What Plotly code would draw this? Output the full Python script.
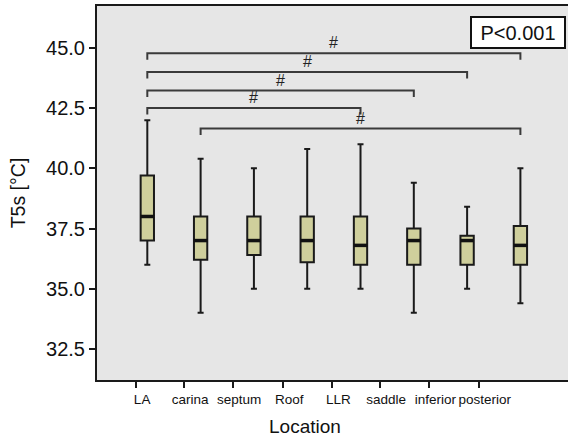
import plotly.graph_objects as go

categories = ["LA", "carina", "septum", "Roof", "LLR", "saddle", "inferior", "posterior"]
upper = [42.0, 40.4, 40.0, 40.8, 41.0, 39.4, 38.4, 40.0]
q3 = [39.7, 38.0, 38.0, 38.0, 38.0, 37.5, 37.2, 37.6]
median = [38.0, 37.0, 37.0, 37.0, 36.8, 37.0, 37.0, 36.8]
q1 = [37.0, 36.2, 36.4, 36.1, 36.0, 36.0, 36.0, 36.0]
lower = [36.0, 34.0, 35.0, 35.0, 35.0, 34.0, 35.0, 34.4]

# significance brackets: (from index, to index, level)
brackets = [(0, 7, 44.78), (0, 6, 44.0), (0, 5, 43.23), (0, 4, 42.5), (1, 7, 41.65)]
bracket_label = "#"
p_text = "P<0.001"

y_ticks = [32.5, 35.0, 37.5, 40.0, 42.5, 45.0]
x_tick_positions = [-0.21, 0.69, 1.61, 2.55, 3.47, 4.37, 5.29, 6.22]

positions = list(range(len(categories)))
box_w = 0.25

fig = go.Figure()
fig.add_trace(go.Box(
    x=positions, q1=q1, median=median, q3=q3,
    lowerfence=lower, upperfence=upper,
    width=box_w, whiskerwidth=0.45, boxpoints=False,
    fillcolor="#cfcf9c", line=dict(color="#1a1a1a", width=2),
    hoverinfo="skip", showlegend=False,
))

mx, my = [], []
for p, m in zip(positions, median):
    mx += [p - box_w / 2, p + box_w / 2, None]
    my += [m, m, None]
fig.add_trace(go.Scatter(x=mx, y=my, mode="lines",
                         line=dict(color="#111111", width=3.5),
                         hoverinfo="skip", showlegend=False))

drop = 0.27
for a, b, lvl in brackets:
    xa, xb = positions[a], positions[b]
    fig.add_shape(type="path",
                  path=f"M {xa},{lvl - drop} L {xa},{lvl} L {xb},{lvl} L {xb},{lvl - drop}",
                  line=dict(color="#3a3a3a", width=2), xref="x", yref="y")
    fig.add_annotation(x=(xa + xb) / 2, y=lvl, text=bracket_label, showarrow=False,
                       yanchor="bottom", yshift=0,
                       font=dict(size=16, color="#222222", family="Liberation Sans, Arial"))

fig.add_annotation(xref="paper", yref="paper", x=0.9958, y=0.973,
                   xanchor="right", yanchor="top", text=p_text, showarrow=False,
                   width=90, height=27, borderpad=1,
                   bordercolor="#111111", borderwidth=2, bgcolor="#ffffff",
                   font=dict(size=20, color="#111111", family="Liberation Sans, Arial"))

fig.add_annotation(xref="paper", yref="paper", x=0.4416, y=-0.123,
                   xanchor="center", yanchor="middle", text="Location", showarrow=False,
                   font=dict(size=19, color="#111111", family="Liberation Sans, Arial"))

fig.update_layout(
    width=568, height=440,
    margin=dict(l=97, r=0, t=6, b=60),
    paper_bgcolor="#ffffff", plot_bgcolor="#e6e6e6",
    font=dict(family="Liberation Sans, Arial", color="#111111"),
    xaxis=dict(range=[-0.944, 7.893], tickmode="array", tickvals=x_tick_positions,
               ticktext=categories, ticks="outside", ticklen=6, tickwidth=2,
               tickcolor="#1a1a1a", showline=True, linewidth=2, linecolor="#1a1a1a",
               mirror=True, showgrid=False, zeroline=False, ticklabelshift=6,
               tickfont=dict(size=13.5)),
    yaxis=dict(range=[31.21, 46.74], tickmode="array", tickvals=y_ticks,
               tickformat=".1f", ticks="outside", ticklen=6, tickwidth=2,
               tickcolor="#1a1a1a", showline=True, linewidth=2, linecolor="#1a1a1a",
               showgrid=False, zeroline=False, tickfont=dict(size=20),
               title=dict(text="T5s [°C]", font=dict(size=19.5))),
)

fig.write_html("out.html")
